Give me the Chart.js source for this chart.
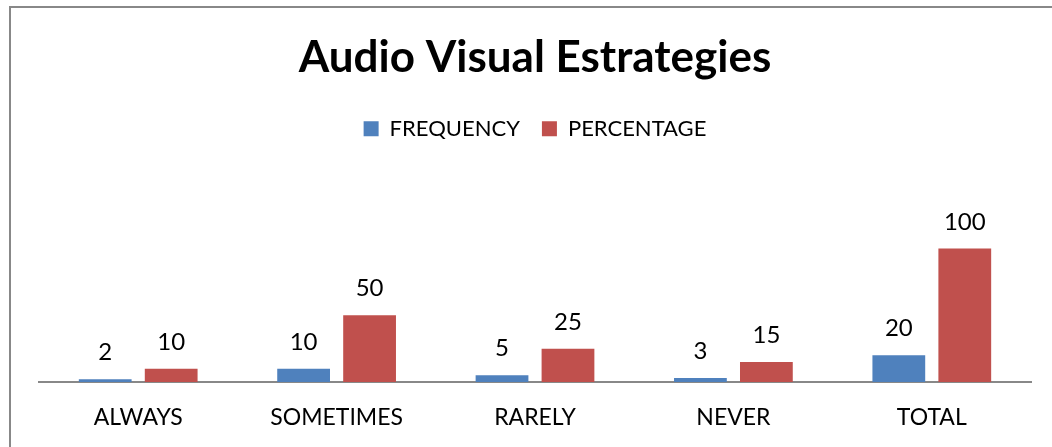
<!DOCTYPE html>
<html>
<head>
<meta charset="utf-8">
<script src="https://cdn.jsdelivr.net/npm/chart.js@4/dist/chart.umd.min.js"></script>
<style>
  html, body { margin: 0; padding: 0; background: #fff; }
  #wrap { position: relative; width: 1052px; height: 447px; overflow: hidden; }
  #frame { position: absolute; left: 9px; top: 6px; right: -10px; bottom: -10px; border-left: 2px solid #888; border-top: 2px solid #888; }
  canvas { position: absolute; left: 0; top: 0; }
</style>
</head>
<body>
<div id="wrap">
  <div id="frame"></div>
  <canvas id="chart" width="1052" height="447"></canvas>
</div>
<script>
// data
const categories = ['ALWAYS', 'SOMETIMES', 'RARELY', 'NEVER', 'TOTAL'];
const frequency = [2, 10, 5, 3, 20];
const percentage = [10, 50, 25, 15, 100];

const FONT = 'Lato, "Open Sans", sans-serif';

// value labels above bars
const barLabels = {
    id: 'barLabels',
    afterDatasetsDraw(chart) {
        const ctx = chart.ctx;
        ctx.save();
        ctx.font = '24px ' + FONT;
        ctx.fillStyle = '#000';
        ctx.textAlign = 'center';
        ctx.textBaseline = 'alphabetic';
        chart.data.datasets.forEach((ds, i) => {
            chart.getDatasetMeta(i).data.forEach((bar, j) => {
                ctx.fillText(String(ds.data[j]), bar.x, bar.y - 19);
            });
        });
        ctx.restore();
    }
};

new Chart(document.getElementById('chart'), {
    type: 'bar',
    data: {
        labels: categories,
        datasets: [
            { label: 'FREQUENCY', data: frequency, backgroundColor: '#4F81BD' },
            { label: 'PERCENTAGE', data: percentage, backgroundColor: '#C0504D' }
        ]
    },
    options: {
        responsive: false,
        animation: false,
        categoryPercentage: 0.665,
        barPercentage: 0.8,
        layout: { padding: { left: 39, right: 21, top: 0, bottom: 0 } },
        plugins: {
            title: {
                display: true,
                text: 'Audio Visual Estrategies',
                color: '#000',
                font: { family: FONT, size: 44, weight: 'bold' },
                padding: { top: 31, bottom: 12 }
            },
            legend: {
                display: true,
                labels: {
                    color: '#000',
                    boxWidth: 15,
                    boxHeight: 15,
                    padding: 22,
                    font: { family: FONT, size: 22 }
                }
            },
            tooltip: { enabled: false }
        },
        scales: {
            x: {
                grid: { display: false, drawTicks: false },
                border: { display: true, color: '#888', width: 2 },
                ticks: { color: '#000', padding: 22, font: { family: FONT, size: 23 } },
                afterFit(scale) { scale.height = 65; }
            },
            y: {
                display: false,
                min: 0,
                max: 174
            }
        }
    },
    plugins: [barLabels]
});
</script>
</body>
</html>
